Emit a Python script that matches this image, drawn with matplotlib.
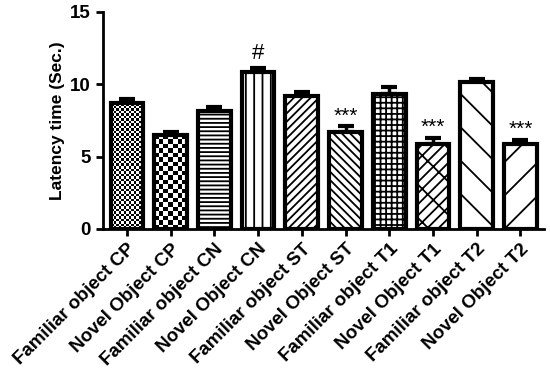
import numpy as np
import matplotlib
matplotlib.use("Agg")
import matplotlib.pyplot as plt

plt.rcParams['font.family'] = ['Liberation Sans', 'DejaVu Sans']
plt.rcParams['hatch.linewidth'] = 1.3

# data
labels = ['Familiar object CP', 'Novel Object CP', 'Familiar object CN', 'Novel Object CN',
          'Familiar object ST', 'Novel Object ST', 'Familiar object T1', 'Novel Object T1',
          'Familiar object T2', 'Novel Object T2']
means = [8.7, 6.5, 8.15, 10.85, 9.2, 6.7, 9.33, 5.87, 10.17, 5.87]
sems = [0.3, 0.2, 0.3, 0.25, 0.25, 0.4, 0.45, 0.42, 0.18, 0.28]
marks = ['', '', '', '#', '', '***', '', '***', '', '***']
hatches = [None, None, '----', '||', '////', '\\\\\\\\', '+++', '///\\', '\\', '/']
checker_px = [2.5, 4.5, None, None, None, None, None, None, None, None]

fig = plt.figure(figsize=(5.5, 3.74), dpi=100)
ax = fig.add_axes([0.187, 0.388, 0.803, 0.58])

x = np.arange(len(labels))
faces = ['none' if p else 'white' for p in checker_px]
bars = ax.bar(x, means, width=0.75, color=faces, edgecolor='black', linewidth=3, zorder=2)
for b, h in zip(bars, hatches):
    if h:
        b.set_hatch(h)

ax.errorbar(x, means, yerr=[np.zeros(len(sems)), sems], fmt='none', ecolor='black',
            elinewidth=2.5, capsize=6, capthick=3, zorder=1)

ax.set_xlim(-0.55, 9.55)
ax.set_ylim(0, 15)

# checkerboard fills for the first two bars
fig.canvas.draw()
for b, px in zip(bars, checker_px):
    if px is None:
        continue
    x0, y0 = ax.transData.transform((b.get_x(), 0))
    x1, y1 = ax.transData.transform((b.get_x() + b.get_width(), b.get_height()))
    nx = max(int(round((x1 - x0) / px)), 1)
    ny = max(int(round((y1 - y0) / px)), 1)
    board = (np.indices((ny, nx)).sum(axis=0) % 2).astype(float)
    im = ax.imshow(board, cmap='gray', vmin=0, vmax=1, interpolation='nearest',
                   extent=(b.get_x(), b.get_x() + b.get_width(), 0, b.get_height()),
                   aspect='auto', zorder=1.5)
    im.set_clip_path(b)

ax.set_xlim(-0.55, 9.55)
ax.set_ylim(0, 15)

for xi, m, s, t in zip(x, means, sems, marks):
    if t == '#':
        ax.text(xi, m + s + 0.3, t, ha='center', va='bottom', fontsize=16)
    elif t:
        ax.text(xi, m + s + 0.05, t, ha='center', va='bottom', fontsize=15)

ax.set_yticks([0, 5, 10, 15])
ax.set_xticks(x)
ax.set_xticklabels(labels, rotation=45, ha='right', rotation_mode='anchor',
                   fontsize=13.5, fontweight='bold')
for lab in ax.get_yticklabels():
    lab.set_fontweight('bold')
    lab.set_fontsize(13.5)
ax.set_ylabel('Latency time (Sec.)', fontsize=12.5, fontweight='bold')

ax.spines['top'].set_visible(False)
ax.spines['right'].set_visible(False)
ax.spines['left'].set_linewidth(2)
ax.spines['bottom'].set_linewidth(2)
ax.tick_params(axis='both', width=2, length=5)

plt.savefig('out.png', dpi=100)
